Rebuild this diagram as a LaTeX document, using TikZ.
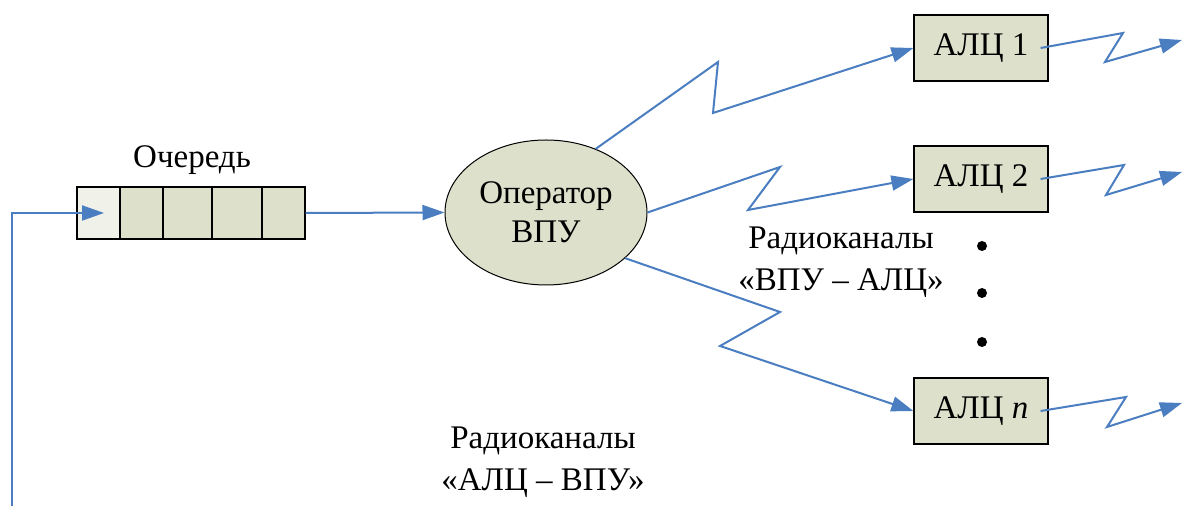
\documentclass[tikz,border=0pt]{standalone}
\usepackage{fontspec}
\setmainfont{Liberation Serif}
\usetikzlibrary{arrows.meta,%
		shapes.geometric}
\definecolor{linkblue}{RGB}{74,126,193}
\definecolor{boxfill}{RGB}{221,224,203}
\definecolor{cellfill}{RGB}{240,241,233}
\tikzset{
  cell/.style={draw,fill=boxfill,minimum height=26pt,inner sep=0pt,line width=0.6pt},
  alc/.style={draw,fill=boxfill,minimum width=67pt,minimum height=33pt,line width=0.6pt},
  radio/.style={linkblue,line width=1pt,-{Triangle[length=11pt,width=7.5pt]}},
  dot/.style={circle,fill=black,inner sep=0pt,minimum size=5pt},
}

\begin{document}
\begin{tikzpicture}[x=0.5pt,y=-0.5pt,font=\fontsize{16.5}{21}\selectfont]
\useasboundingbox (0,0) rectangle (1182,506);

% очередь
\node[cell,fill=cellfill,minimum width=21.5pt] (q0) at (98.5,213) {};
\node[cell,minimum width=21.5pt] (q1) at (141.5,213) {};
\node[cell,minimum width=24.5pt] (q2) at (187.5,213) {};
\node[cell,minimum width=25pt] (q3) at (237,213) {};
\node[cell,minimum width=21.5pt] (q4) at (283.5,213) {};
\node (qname) at (192,160) {Очередь};

% оператор
\node[ellipse,draw,fill=boxfill,line width=0.5pt,minimum width=101pt,minimum height=72.5pt,
      inner sep=0pt,align=center,font=\fontsize{16.5}{19.5}\selectfont] (oper) at (546,212.5) {Оператор\\ВПУ};

% АЛЦ
\node[alc] (alc1) at (981,48) {АЛЦ 1};
\node[alc] (alc2) at (981,179) {АЛЦ 2};
\node[alc] (alcn) at (981,411) {АЛЦ \textit{n}};
\node[dot] (d1) at (982,246) {};
\node[dot] (d2) at (982,293) {};
\node[dot] (d3) at (982,342) {};

\node[align=center] (rk1) at (841,262) {Радиоканалы\\«ВПУ – АЛЦ»};
\node[align=center] (rk2) at (543,462) {Радиоканалы\\«АЛЦ – ВПУ»};

% изломы
\coordinate (z1a) at (718,62);
\coordinate (z1b) at (713,113);
\coordinate (z2a) at (780,167);
\coordinate (z2b) at (748,210);
\coordinate (zna) at (780,312);
\coordinate (znb) at (720,346);

\coordinate (o1a) at (1123,33);
\coordinate (o1b) at (1105,62);
\coordinate (o1) at (1182,40);
\coordinate (o2a) at (1124,165);
\coordinate (o2b) at (1106,195);
\coordinate (o2) at (1182,172);
\coordinate (ona) at (1126,397);
\coordinate (onb) at (1107,427);
\coordinate (on) at (1182,403);

\coordinate (fb) at (12,506);
\coordinate (qin) at (104,213);

\draw[radio] (fb) |- (qin);
\draw[radio] (q4.east) -- (oper.west);

\draw[radio] (oper.52) -- (z1a) -- (z1b) -- (alc1.west);
\draw[radio] (oper.0) -- (z2a) -- (z2b) -- (alc2.west);
\draw[radio] (oper.-30) -- (zna) -- (znb) -- (alcn.west);

\draw[radio] ([xshift=-4pt]alc1.east) -- (o1a) -- (o1b) -- (o1);
\draw[radio] ([xshift=-4pt]alc2.east) -- (o2a) -- (o2b) -- (o2);
\draw[radio] ([xshift=-4pt]alcn.east) -- (ona) -- (onb) -- (on);

\end{tikzpicture}
\end{document}
